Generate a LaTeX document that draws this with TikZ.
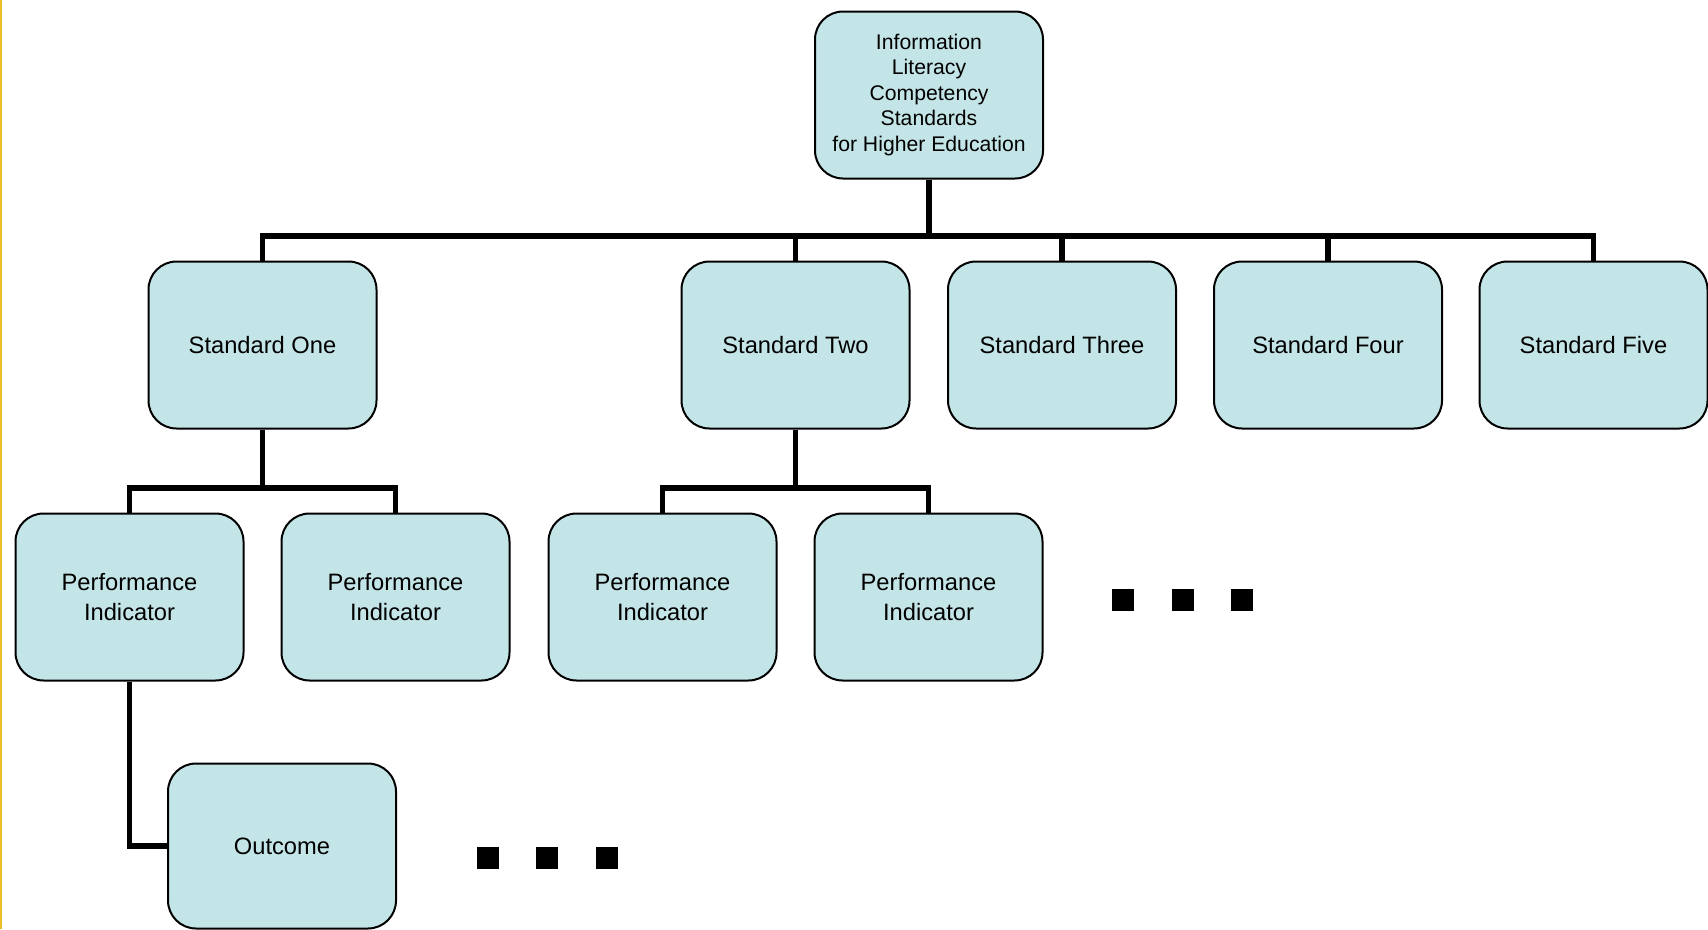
\documentclass[tikz,border=0pt]{standalone}
\usepackage{fontspec}
\setmainfont{Liberation Sans}
\usetikzlibrary{backgrounds}
\definecolor{boxfill}{RGB}{196,229,231}
\definecolor{edgeline}{RGB}{240,190,40}
\tikzset{
  stdbox/.style={draw=black, line width=2pt, fill=boxfill, rounded corners=28pt,
    minimum width=228pt, minimum height=167pt, align=center, inner sep=4pt,
    font=\fontsize{23.7pt}{29.5pt}\selectfont},
  topbox/.style={stdbox, font=\fontsize{21.2pt}{25.5pt}\selectfont},
  conn/.style={draw=black, line width=5.5pt},
  dotsq/.style={fill=black, minimum size=22pt, inner sep=0pt, outer sep=0pt}
}
\begin{document}
\begin{tikzpicture}[x=1pt, y=-1pt]
  \useasboundingbox (0,0) rectangle (1708,929);

  \coordinate (barA) at (0,236);
  \coordinate (barB) at (0,488);

  % top of the hierarchy
  \node[topbox] (top) at (929,95) {Information\\Literacy\\Competency\\Standards\\for Higher Education};

  % the five standards
  \node[stdbox] (s1) at (262.5,345) {Standard One};
  \node[stdbox] (s2) at (795.5,345) {Standard Two};
  \node[stdbox] (s3) at (1062,345) {Standard Three};
  \node[stdbox] (s4) at (1328,345) {Standard Four};
  \node[stdbox] (s5) at (1593.5,345) {Standard Five};

  % performance indicators
  \node[stdbox] (p1) at (129.5,597) {Performance\\Indicator};
  \node[stdbox] (p2) at (395.5,597) {Performance\\Indicator};
  \node[stdbox] (p3) at (662.5,597) {Performance\\Indicator};
  \node[stdbox] (p4) at (928.5,597) {Performance\\Indicator};

  % outcome
  \node[stdbox, minimum height=165pt] (out) at (282,846) {Outcome};

  % continuation marks
  \node[dotsq] (da1) at (1123,600) {};
  \node[dotsq] (da2) at (1183,600) {};
  \node[dotsq] (da3) at (1242,600) {};
  \node[dotsq] (db1) at (488,858) {};
  \node[dotsq] (db2) at (547,858) {};
  \node[dotsq] (db3) at (607,858) {};

  % page, edge rule and tree connectors behind the boxes
  \begin{pgfonlayer}{background}
    \fill[white] (0,0) rectangle (1708,929);
    \draw[edgeline, line width=1.6pt] (0.8,0) -- (0.8,929);
    \foreach \c in {s1,s2,s3,s4,s5}
      \draw[conn] (top.south) -- (top.south |- barA) -| (\c.north);
    \foreach \c in {p1,p2}
      \draw[conn] (s1.south) -- (s1.south |- barB) -| (\c.north);
    \foreach \c in {p3,p4}
      \draw[conn] (s2.south) -- (s2.south |- barB) -| (\c.north);
    \draw[conn] (p1.south) |- (out.west);
  \end{pgfonlayer}
\end{tikzpicture}
\end{document}
